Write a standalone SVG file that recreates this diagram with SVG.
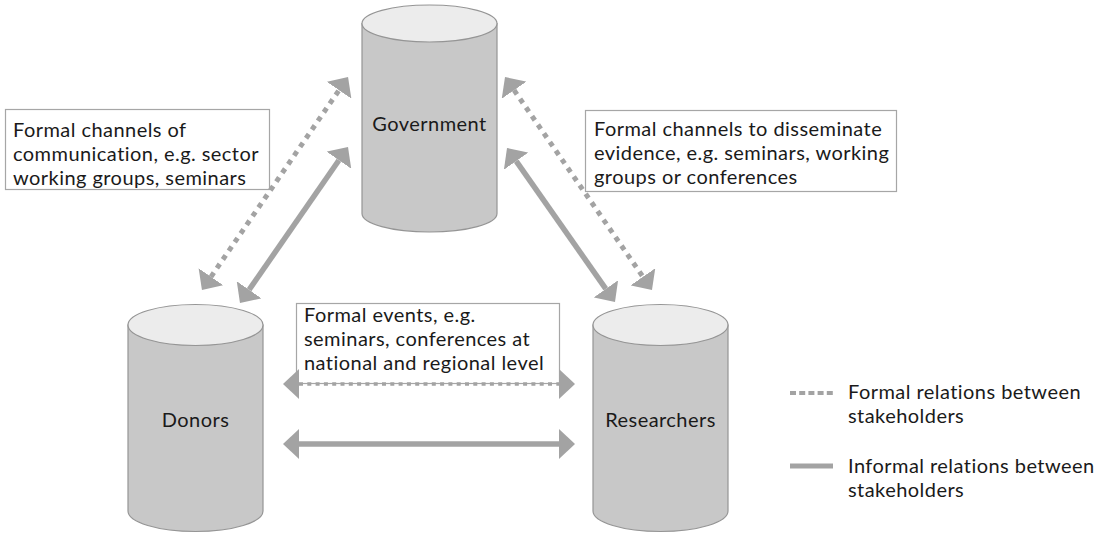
<svg xmlns="http://www.w3.org/2000/svg" width="1106" height="533" viewBox="0 0 1106 533">
  <style>
    text { font-family: Lato, "Open Sans", "Liberation Sans", sans-serif; font-size: 20px; letter-spacing: 0.45px; fill: #1a1a1a; }
    .label { text-anchor: middle; }
    .body { fill: #c8c8c8; stroke: #959595; stroke-width: 1.2; }
    .lid { fill: #ececec; stroke: #959595; stroke-width: 1.2; }
    .note { fill: #ffffff; stroke: #a6a6a6; stroke-width: 1.2; }
    .solid { stroke: #a3a3a3; stroke-width: 5.5; fill: none; marker-start: url(#head); marker-end: url(#head); }
    .dotted { stroke: #a3a3a3; stroke-width: 5; fill: none; stroke-dasharray: 5 5.5; marker-start: url(#head); marker-end: url(#head); }
    .dotted-h { stroke: #a3a3a3; stroke-width: 3.5; fill: none; stroke-dasharray: 4 4.3; marker-start: url(#head); marker-end: url(#head); }
  </style>
  <defs>
    <marker id="head" markerUnits="userSpaceOnUse" viewBox="0 0 16 30" markerWidth="16" markerHeight="30" refX="0" refY="15" orient="auto-start-reverse">
      <path d="M0,0 L16,15 L0,30 Z" fill="#a3a3a3"/>
    </marker>
  </defs>

  <!-- Government -->
  <g id="government">
    <path class="body" d="M362,23.5 V213.5 A67.5,18.5 0 0 0 497,213.5 V23.5 Z"/>
    <ellipse class="lid" cx="429.5" cy="23.5" rx="67.5" ry="18.5"/>
    <text class="label" x="429.5" y="131">Government</text>
  </g>

  <!-- Donors -->
  <g id="donors">
    <path class="body" d="M128,325 V511 A67.5,20.5 0 0 0 263,511 V325 Z"/>
    <ellipse class="lid" cx="195.5" cy="325" rx="67.5" ry="20.5"/>
    <text class="label" x="195.5" y="426.5">Donors</text>
  </g>

  <!-- Researchers -->
  <g id="researchers">
    <path class="body" d="M593,325 V511 A67.5,20.5 0 0 0 728,511 V325 Z"/>
    <ellipse class="lid" cx="660.5" cy="325" rx="67.5" ry="20.5"/>
    <text class="label" x="660.5" y="426.5">Researchers</text>
  </g>

  <!-- Notes -->
  <g id="note-donors-government">
    <rect class="note" x="5.5" y="109.5" width="264" height="80"/>
    <text x="13" y="137">Formal channels of</text>
    <text x="13" y="161">communication, e.g. sector</text>
    <text x="13" y="185">working groups, seminars</text>
  </g>
  <g id="note-government-researchers">
    <rect class="note" x="585.5" y="110.5" width="311" height="81"/>
    <text x="594" y="136">Formal channels to disseminate</text>
    <text x="594" y="160">evidence, e.g. seminars, working</text>
    <text x="594" y="184">groups or conferences</text>
  </g>
  <g id="note-donors-researchers">
    <rect class="note" x="296.5" y="303.5" width="263" height="80"/>
    <text x="304" y="322">Formal events, e.g.</text>
    <text x="304" y="346">seminars, conferences at</text>
    <text x="304" y="370">national and regional level</text>
  </g>

  <!-- Connectors -->
  <g id="connectors">
    <line class="dotted" x1="211" y1="276.8" x2="339" y2="90.2"/>
    <line class="solid" x1="249.1" y1="289.8" x2="338.9" y2="160.2"/>
    <line class="dotted" x1="514.1" y1="90.2" x2="642.9" y2="276.8"/>
    <line class="solid" x1="516.2" y1="161.1" x2="605.8" y2="288.9"/>
    <line class="dotted-h" x1="299" y1="384" x2="559" y2="384"/>
    <line class="solid" x1="299" y1="444" x2="559" y2="444"/>
  </g>

  <!-- Legend -->
  <g id="legend">
    <line x1="790" y1="393" x2="833" y2="393" stroke="#a3a3a3" stroke-width="4" stroke-dasharray="6 3.2"/>
    <text x="848" y="399">Formal relations between</text>
    <text x="848" y="423">stakeholders</text>
    <line x1="790" y1="466" x2="833" y2="466" stroke="#a3a3a3" stroke-width="5"/>
    <text x="848" y="473">Informal relations between</text>
    <text x="848" y="497">stakeholders</text>
  </g>
</svg>
